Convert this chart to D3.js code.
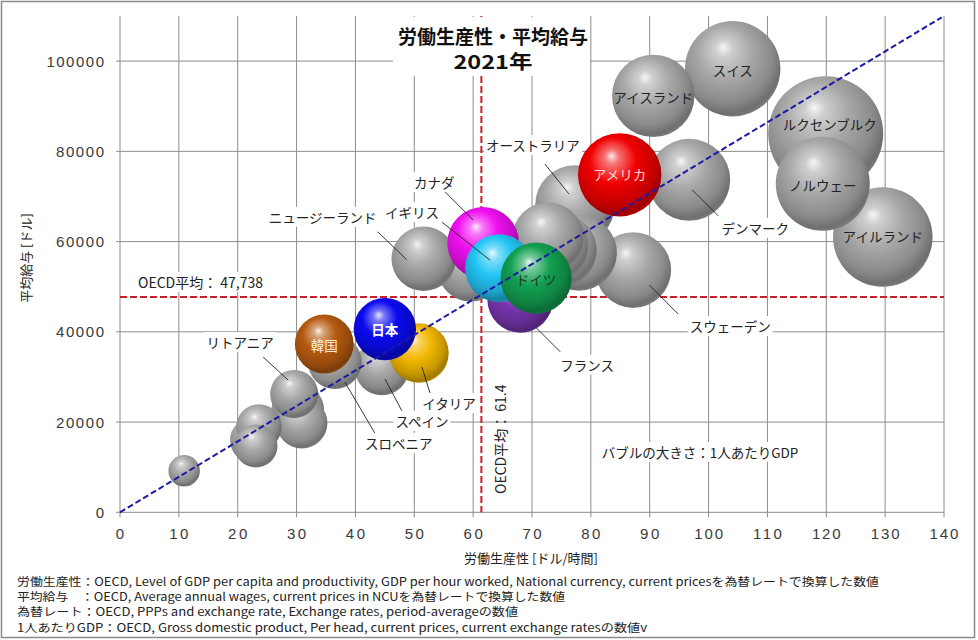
<!DOCTYPE html>
<html><head><meta charset="utf-8">
<script src="https://cdn.jsdelivr.net/npm/d3@7"></script>
<style>
html,body{margin:0;padding:0;background:#fff;}
svg{display:block;font-family:"Noto Sans CJK JP","Noto Sans",sans-serif;}
</style></head><body>
<svg id="chart" width="978" height="640"></svg>
<script>
// ---------------- DATA ----------------
const countries = ["ルクセンブルク","アイルランド","スイス","ノルウェー","アイスランド","アメリカ","デンマーク","スウェーデン","オーストラリア","オランダ","ベルギー","オーストリア","フィンランド","イスラエル","ドイツ","フランス","イギリス","カナダ","ニュージーランド","日本","韓国","イタリア","スペイン","スロベニア","リトアニア","エストニア","チェコ","ラトビア","スロバキア","ハンガリー","メキシコ"];
const productivity = [119.9,129.6,104.1,119.4,90.6,84.9,96.7,87.2,77.3,78.0,72.7,74.8,73.4,59.6,70.7,68.0,64.4,61.7,51.6,45.0,34.7,50.8,44.5,36.5,29.6,30.2,30.9,23.6,22.6,23.1,10.9];
const wages = [83900,61000,98300,72800,92300,74800,73700,53700,68100,57500,60800,58100,59000,54100,51900,47100,54100,59700,56200,40600,37300,35300,32000,33300,26200,22700,19800,18900,16000,14700,9200];
const gdpPerCapita = [133600,100000,91900,89200,68700,70200,68000,58000,64000,57800,51200,53600,53000,45000,51200,43600,46500,52000,42000,39300,34900,35700,30100,29300,23400,27900,26400,21000,21300,18700,10000];
const xTicks = [0,10,20,30,40,50,60,70,80,90,100,110,120,130,140];
const yTicks = [0,20000,40000,60000,80000,100000];
const oecdProductivity = 61.4;
const oecdWage = 47738;
const trendFrom = [0, 0];
const trendTo = [139.6, 109700];
const titleLines = ["労働生産性・平均給与", "2021年"];
const xTitle = "労働生産性 [ドル/時間]";
const yTitle = "平均給与 [ドル]";
const bubbleNote = "バブルの大きさ：1人あたりGDP";
const footnotes = [
  "労働生産性：OECD, Level of GDP per capita and productivity, GDP per hour worked, National currency, current pricesを為替レートで換算した数値",
  "平均給与　：OECD, Average annual wages, current prices in NCUを為替レートで換算した数値",
  "為替レート：OECD, PPPs and exchange rate, Exchange rates, period-averageの数値",
  "1人あたりGDP：OECD, Gross domestic product, Per head, current prices, current exchange ratesの数値v"
];

// ---------------- STYLE / LAYOUT ----------------
const highlight = {"フランス":"#7a35b0","カナダ":"#f010f0","イギリス":"#22c4f4","ドイツ":"#12a050","韓国":"#b65a10","イタリア":"#f2b800","日本":"#0a0af0","アメリカ":"#f00000"};
const highlightOrder = ["フランス","カナダ","イギリス","ドイツ","韓国","イタリア","日本","アメリカ"];
const inside = {
  "ルクセンブルク":{dx:4,dy:-10,fill:"#222"},
  "ノルウェー":{dx:0,dy:1,fill:"#222"},
  "アイルランド":{dx:0,dy:-1,fill:"#222"},
  "スイス":{dx:0,dy:1,fill:"#222"},
  "アイスランド":{dx:0,dy:1,fill:"#222"},
  "アメリカ":{dx:0,dy:-1,fill:"#ffd6d6"},
  "ドイツ":{dx:0,dy:1,fill:"#1d3a22"},
  "日本":{dx:0,dy:0,fill:"#ffffff",weight:700},
  "韓国":{dx:0,dy:1,fill:"#fff0dc"}
};
const outside = {
  "デンマーク":{l:[3,10,29,36],t:[66,48]},
  "スウェーデン":{l:[16,15,45,44],t:[97,56]},
  "オーストラリア":{l:[-6,-11,-30,-41],t:[-42,-60]},
  "カナダ":{l:[-10,-23,-38,-51],t:[-49,-61]},
  "イギリス":{l:[-9,-8,-57,-46],t:[-87,-56]},
  "ニュージーランド":{l:[-17,1,-46,-27],t:[-101,-42]},
  "フランス":{l:[15,27,40,52],t:[67,65]},
  "イタリア":{l:[3,14,11,40],t:[30,50]},
  "スペイン":{l:[3,11,20,43],t:[40,53]},
  "スロベニア":{l:[10,20,40,71],t:[64,81]},
  "リトアニア":{l:[-6,-14,-31,-37],t:[-54,-52]}
};

const svg = d3.select("#chart");
const W = 978, H = 640;
const plot = {l:120, r:944, t:16, b:512.3};
const x = d3.scaleLinear().domain([0,140]).range([plot.l, plot.r]);
const y = d3.scaleLinear().domain([0,110000]).range([plot.b, plot.t]);
const rScale = d3.scaleSqrt().domain([0, d3.max(gdpPerCapita)]).range([0, 57.5]);

svg.append("rect").attr("width",W).attr("height",H).attr("fill","#fff");
svg.append("rect").attr("x",1.5).attr("y",1.5).attr("width",973).attr("height",636)
  .attr("fill","none").attr("stroke","#8a8a8a").attr("stroke-width",1.5);

const defs = svg.append("defs");
function grad(id, base){
  const c = d3.color(base);
  const g = defs.append("radialGradient").attr("id",id)
    .attr("cx",0.44).attr("cy",0.40).attr("r",0.62).attr("fx",0.40).attr("fy",0.27);
  const st = [
    [0, d3.interpolateRgb(base,"#ffffff")(0.9)],
    [0.14, d3.interpolateRgb(base,"#ffffff")(0.45)],
    [0.45, base],
    [0.78, c.darker(0.55).formatHex()],
    [0.93, c.darker(1.15).formatHex()],
    [1, c.darker(0.8).formatHex()]
  ];
  st.forEach(s=>g.append("stop").attr("offset",s[0]).attr("stop-color",s[1]));
}
grad("g-gray","#a8a8a8");
Object.keys(highlight).forEach((k,i)=>grad("g-h"+i, highlight[k]));

// grid
const grid = svg.append("g");
grid.selectAll("line.v").data(xTicks).join("line")
  .attr("x1",d=>x(d)).attr("x2",d=>x(d)).attr("y1",plot.t).attr("y2",plot.b+5)
  .attr("stroke","#8c8c8c").attr("stroke-width",1);
grid.selectAll("line.h").data(yTicks).join("line")
  .attr("x1",plot.l-4).attr("x2",plot.r).attr("y1",d=>y(d)).attr("y2",d=>y(d))
  .attr("stroke","#8c8c8c").attr("stroke-width",1);

// tick labels
const tickFont = "Liberation Sans";
svg.append("g").selectAll("text").data(yTicks).join("text")
  .attr("x",104).attr("y",d=>y(d)+5.5).attr("text-anchor","end")
  .attr("font-family",tickFont).attr("font-size",15).attr("fill","#3a3a3a")
  .attr("textLength",d=>String(d).length*9.6).attr("lengthAdjust","spacing")
  .text(d=>d);
svg.append("g").selectAll("text").data(xTicks).join("text")
  .attr("x",d=>x(d)).attr("y",538.5).attr("text-anchor","middle")
  .attr("font-family",tickFont).attr("font-size",15).attr("fill","#3a3a3a")
  .attr("textLength",d=>String(d).length*9.6).attr("lengthAdjust","spacing")
  .text(d=>d);

// axis titles
svg.append("text").attr("x",531).attr("y",563).attr("text-anchor","middle")
  .attr("font-size",13).attr("fill","#222").text(xTitle);
svg.append("text").attr("transform","translate(31,258) rotate(-90)").attr("text-anchor","middle")
  .attr("font-size",13).attr("fill","#222").text(yTitle);

// OECD average lines
svg.append("line").attr("x1",plot.l).attr("x2",plot.r).attr("y1",y(oecdWage)).attr("y2",y(oecdWage))
  .attr("stroke","#c8202a").attr("stroke-width",2).attr("stroke-dasharray","7,3");
svg.append("line").attr("x1",x(oecdProductivity)).attr("x2",x(oecdProductivity)).attr("y1",plot.t).attr("y2",plot.b)
  .attr("stroke","#c8202a").attr("stroke-width",2).attr("stroke-dasharray","7,3");

// title box
svg.append("rect").attr("x",393).attr("y",17).attr("width",197).attr("height",59).attr("fill","#fff");
svg.append("text").attr("x",493).attr("y",44).attr("text-anchor","middle").attr("font-size",19)
  .attr("font-weight",700).attr("fill","#111").attr("textLength",190).attr("lengthAdjust","spacingAndGlyphs").text(titleLines[0]);
svg.append("text").attr("x",493).attr("y",69).attr("text-anchor","middle").attr("font-size",19)
  .attr("font-weight",700).attr("fill","#111").attr("textLength",79).attr("lengthAdjust","spacingAndGlyphs").text(titleLines[1]);

// helpers
function bgText(g, xx, yy, txt, opts){
  const t = g.append("text").attr("x",xx).attr("y",yy).attr("text-anchor",opts.anchor||"middle")
    .attr("dominant-baseline","central").attr("font-size",opts.size||13.5).attr("fill",opts.fill||"#222").text(txt);
  if(opts.weight) t.attr("font-weight",opts.weight);
  if(opts.bg){
    const b = t.node().getBBox();
    g.insert("rect","text").attr("x",b.x-2).attr("y",b.y).attr("width",b.width+4).attr("height",b.height).attr("fill","#fff");
  }
  return t;
}
const oecdG = svg.append("g");
const ot = oecdG.append("text").attr("x",138).attr("y",288).attr("font-size",14).attr("fill","#222")
  .text("OECD平均： " + d3.format(",")(oecdWage));
{ const b = ot.node().getBBox();
  oecdG.insert("rect","text").attr("x",b.x-3).attr("y",b.y).attr("width",b.width+6).attr("height",b.height).attr("fill","#fff"); }
svg.append("text").attr("transform",`translate(${x(oecdProductivity)+25},494) rotate(-90)`)
  .attr("font-size",14).attr("fill","#222").text("OECD平均： " + oecdProductivity);

// bubble note
const noteG = svg.append("g");
bgText(noteG, 700, 452, bubbleNote, {size:13.5, bg:true});

// bubbles
const data = countries.map((c,i)=>({name:c, px:productivity[i], w:wages[i], g:gdpPerCapita[i]}));
const grays = data.filter(d=>!highlight[d.name]).sort((a,b)=>b.g-a.g);
const cols = highlightOrder.map(n=>data.find(d=>d.name===n));
const hKeys = Object.keys(highlight);
const bubbles = svg.append("g");
bubbles.selectAll("circle.gray").data(grays).join("circle")
  .attr("cx",d=>x(d.px)).attr("cy",d=>y(d.w)).attr("r",d=>rScale(d.g))
  .attr("fill","url(#g-gray)");
bubbles.selectAll("circle.col").data(cols).join("circle")
  .attr("cx",d=>x(d.px)).attr("cy",d=>y(d.w)).attr("r",d=>rScale(d.g))
  .attr("fill",d=>`url(#g-h${hKeys.indexOf(d.name)})`);

// trend line
svg.append("line").attr("x1",x(trendFrom[0])).attr("y1",y(trendFrom[1])).attr("x2",x(trendTo[0])).attr("y2",y(trendTo[1]))
  .attr("stroke","#1b1ba6").attr("stroke-width",2).attr("stroke-dasharray","6,3");

// labels
const labG = svg.append("g");
data.forEach(d=>{
  const cx = x(d.px), cy = y(d.w);
  if(inside[d.name]){
    const o = inside[d.name];
    bgText(labG, cx+o.dx, cy+o.dy, d.name, {size:13.5, fill:o.fill, weight:o.weight});
  } else if(outside[d.name]){
    const o = outside[d.name];
    labG.append("line").attr("x1",cx+o.l[0]).attr("y1",cy+o.l[1]).attr("x2",cx+o.l[2]).attr("y2",cy+o.l[3])
      .attr("stroke","#222").attr("stroke-width",0.9);
    const g = labG.append("g");
    bgText(g, cx+o.t[0], cy+o.t[1], d.name, {size:13.5, bg:true});
  }
});

// footnotes
const fnY = [585.5, 601, 616, 631.5];
const fnW = [862, 548, 501, 630];
svg.append("g").selectAll("text").data(footnotes).join("text")
  .attr("x",17).attr("y",(d,i)=>fnY[i]).attr("font-size",11.5).attr("fill","#222")
  .attr("textLength",(d,i)=>fnW[i]).attr("lengthAdjust","spacingAndGlyphs")
  .text(d=>d);
</script>
</body></html>
